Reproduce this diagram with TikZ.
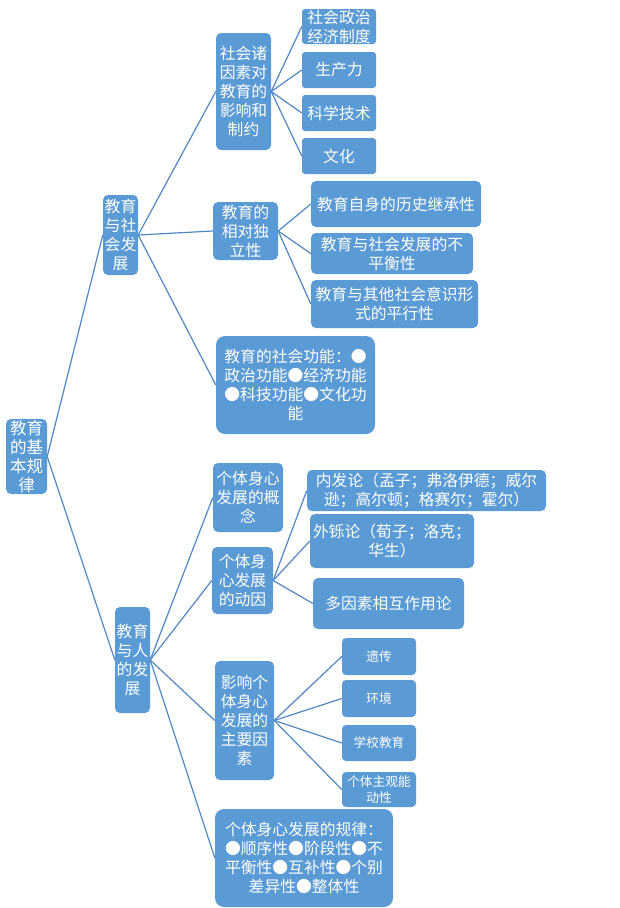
\documentclass[tikz,border=0pt]{standalone}
\usepackage{fontspec}
\newfontfamily\cjk{Noto Sans CJK SC}
\definecolor{boxblue}{HTML}{5B9BD5}
\definecolor{lineblue}{HTML}{5088C6}
\begin{document}
\begin{tikzpicture}[x=1pt,y=-1pt,
  box/.style={fill=boxblue, rounded corners=5pt, text=white, inner sep=0pt, align=center,
    font=\cjk\fontsize{15.8}{19}\selectfont},
  bigbox/.style={box, rounded corners=9pt},
  smallbox/.style={box, rounded corners=4pt, font=\cjk\fontsize{12.7}{16}\selectfont},
  link/.style={draw=lineblue, line width=1.2pt}]
\useasboundingbox (0,0) rectangle (619,908);
% root and level 1
\node[box, minimum width=41pt, minimum height=75pt, font=\cjk\fontsize{16.5}{19}\selectfont] (root) at (26.5,456.5) {教育\\的基\\本规\\律};
\node[box, minimum width=35pt, minimum height=80pt] (a) at (120.5,235) {教育\\与社\\会发\\展};
\node[box, minimum width=35pt, minimum height=106pt] (b) at (132.5,660) {教育\\与人\\的发\\展};
% level 2 (society)
\node[box, minimum width=55pt, minimum height=117pt] (a1) at (243.5,91.5) {社会诸\\因素对\\教育的\\影响和\\制约};
\node[box, minimum width=65pt, minimum height=58pt] (a2) at (245.5,231) {教育的\\相对独\\立性};
\node[bigbox, minimum width=159pt, minimum height=98pt] (a3) at (295.5,385) {教育的社会功能：●\\政治功能●经济功能\\●科技功能●文化功\\能};
% level 3 under a1
\node[box, rounded corners=3pt, minimum width=74pt, minimum height=35pt] (a11) at (339,26.5) {社会政治\\经济制度};
\node[box, rounded corners=3pt, minimum width=74pt, minimum height=36pt] (a12) at (339,70) {生产力};
\node[box, rounded corners=3pt, minimum width=74pt, minimum height=36pt] (a13) at (339,113) {科学技术};
\node[box, rounded corners=3pt, minimum width=74pt, minimum height=36pt] (a14) at (339,156) {文化};
% level 3 under a2
\node[box, minimum width=170pt, minimum height=46pt] (a21) at (396,204) {教育自身的历史继承性};
\node[box, minimum width=162pt, minimum height=41pt] (a22) at (392,253.5) {教育与社会发展的不\\平衡性};
\node[box, minimum width=167pt, minimum height=48pt] (a23) at (394.5,304) {教育与其他社会意识形\\式的平行性};
% level 2 (person)
\node[box, minimum width=70pt, minimum height=69pt] (b1) at (248,497.5) {个体身心\\发展的概\\念};
\node[box, minimum width=61pt, minimum height=67pt] (b2) at (242.5,580.5) {个体身\\心发展\\的动因};
\node[box, minimum width=59pt, minimum height=119pt] (b3) at (244.5,720.5) {影响个\\体身心\\发展的\\主要因\\素};
\node[bigbox, minimum width=178pt, minimum height=98pt] (b4) at (304,858) {个体身心发展的规律：\\●顺序性●阶段性●不\\平衡性●互补性●个别\\差异性●整体性};
% level 3 under b2
\node[box, minimum width=239pt, minimum height=41pt] (b21) at (426.5,490.5) {内发论（孟子；弗洛伊德；威尔\\逊；高尔顿；格赛尔；霍尔）};
\node[box, minimum width=164pt, minimum height=54pt] (b22) at (392,541) {外铄论（荀子；洛克；\\华生）};
\node[box, minimum width=151pt, minimum height=51pt] (b23) at (388.5,603.5) {多因素相互作用论};
% level 3 under b3
\node[smallbox, minimum width=74pt, minimum height=37pt] (b31) at (379,656.5) {遗传};
\node[smallbox, minimum width=74pt, minimum height=37pt] (b32) at (379,698.5) {环境};
\node[smallbox, minimum width=74pt, minimum height=36pt] (b33) at (379,743) {学校教育};
\node[smallbox, minimum width=74pt, minimum height=35pt] (b34) at (379,789.5) {个体主观能\\动性};
% connectors
\foreach \p/\c in {root/a, root/b, a/a1, a/a2, a/a3, a1/a11, a1/a12, a1/a13, a1/a14,
  a2/a21, a2/a22, a2/a23, b/b1, b/b2, b/b3, b/b4, b2/b21, b2/b22, b2/b23,
  b3/b31, b3/b32, b3/b33, b3/b34}
  \draw[link] (\p.east) -- (\c.west);
\end{tikzpicture}
\end{document}
